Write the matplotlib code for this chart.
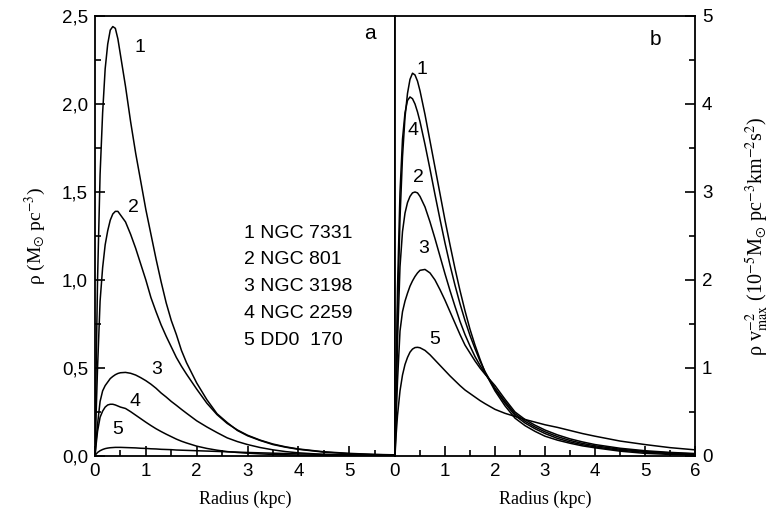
import matplotlib
matplotlib.use("Agg")
import matplotlib.pyplot as plt
from matplotlib.ticker import MultipleLocator, FuncFormatter

# radius grid (kpc)
R = [0, 0.02, 0.05, 0.1, 0.15, 0.2, 0.25, 0.3, 0.35, 0.4, 0.45, 0.5, 0.6, 0.7, 0.8, 0.9,
     1.0, 1.1, 1.2, 1.3, 1.4, 1.5, 1.6, 1.7, 1.8, 2.0, 2.2, 2.4, 2.6, 2.8, 3.0, 3.25,
     3.5, 3.75, 4.0, 4.5, 5.0, 5.5, 6.0]

# panel a: rho (Msun pc^-3)
rho_1 = [0, 0.45, 1.0, 1.6, 1.95, 2.2, 2.34, 2.42, 2.44, 2.43, 2.37, 2.28, 2.1, 1.9, 1.72, 1.56,
         1.4, 1.26, 1.12, 0.99, 0.87, 0.77, 0.69, 0.6, 0.53, 0.415, 0.32, 0.24, 0.19, 0.145, 0.115, 0.088,
         0.065, 0.05, 0.038, 0.022, 0.013, 0.008, 0.005]
rho_2 = [0, 0.22, 0.5, 0.88, 1.07, 1.2, 1.28, 1.34, 1.375, 1.39, 1.39, 1.37, 1.33, 1.26, 1.18, 1.09,
         1.0, 0.9, 0.82, 0.745, 0.68, 0.62, 0.56, 0.51, 0.465, 0.38, 0.3, 0.235, 0.185, 0.148, 0.118, 0.09,
         0.068, 0.052, 0.04, 0.024, 0.015, 0.009, 0.006]
rho_3 = [0, 0.08, 0.18, 0.31, 0.37, 0.40, 0.42, 0.44, 0.452, 0.462, 0.469, 0.473, 0.475, 0.47, 0.46, 0.445,
         0.428, 0.408, 0.385, 0.358, 0.335, 0.31, 0.288, 0.265, 0.243, 0.2, 0.165, 0.133, 0.103, 0.082, 0.065, 0.048,
         0.035, 0.025, 0.018, 0.009, 0.005, 0.003, 0.002]
rho_4 = [0, 0.06, 0.14, 0.22, 0.255, 0.278, 0.29, 0.294, 0.294, 0.29, 0.284, 0.278, 0.27, 0.252, 0.232, 0.212,
         0.192, 0.173, 0.155, 0.139, 0.124, 0.11, 0.096, 0.084, 0.074, 0.056, 0.043, 0.033, 0.025, 0.02, 0.016, 0.012,
         0.009, 0.007, 0.005, 0.003, 0.002, 0.001, 0.001]
rho_5 = [0, 0.01, 0.02, 0.03, 0.037, 0.042, 0.045, 0.047, 0.048, 0.049, 0.049, 0.049, 0.048, 0.047, 0.046, 0.044,
         0.043, 0.041, 0.04, 0.038, 0.037, 0.036, 0.034, 0.033, 0.032, 0.03, 0.028, 0.026, 0.024, 0.022, 0.02, 0.018,
         0.016, 0.014, 0.012, 0.009, 0.007, 0.005, 0.004]

# panel b: rho / vmax^2 (1e-5 Msun pc^-3 km^-2 s^2)
nrm_1 = [0, 0.6, 1.6, 2.7, 3.4, 3.85, 4.12, 4.28, 4.35, 4.33, 4.26, 4.15, 3.88, 3.58, 3.28, 2.98,
         2.68, 2.4, 2.13, 1.88, 1.65, 1.44, 1.26, 1.1, 0.95, 0.74, 0.57, 0.43, 0.345, 0.28, 0.225, 0.18,
         0.145, 0.115, 0.093, 0.055, 0.03, 0.018, 0.011]
nrm_2 = [0, 0.55, 1.3, 2.15, 2.55, 2.76, 2.88, 2.95, 2.99, 3.0, 2.99, 2.95, 2.83, 2.66, 2.47, 2.27,
         2.07, 1.88, 1.7, 1.53, 1.38, 1.25, 1.13, 1.03, 0.94, 0.77, 0.62, 0.48, 0.395, 0.33, 0.275, 0.22,
         0.177, 0.143, 0.116, 0.077, 0.051, 0.034, 0.023]
nrm_3 = [0, 0.38, 0.85, 1.42, 1.64, 1.76, 1.85, 1.93, 1.99, 2.04, 2.08, 2.11, 2.12, 2.08, 2.0, 1.89,
         1.77, 1.64, 1.51, 1.38, 1.26, 1.17, 1.08, 1.0, 0.93, 0.8, 0.645, 0.5, 0.415, 0.35, 0.295, 0.24,
         0.195, 0.16, 0.13, 0.088, 0.06, 0.041, 0.028]
nrm_4 = [0, 0.75, 1.9, 3.0, 3.6, 3.9, 4.04, 4.08, 4.06, 4.0, 3.91, 3.8, 3.54, 3.26, 2.97, 2.69,
         2.42, 2.17, 1.94, 1.73, 1.54, 1.37, 1.22, 1.08, 0.96, 0.76, 0.6, 0.46, 0.375, 0.31, 0.255, 0.2,
         0.16, 0.128, 0.103, 0.066, 0.042, 0.027, 0.018]
nrm_5 = [0, 0.22, 0.46, 0.74, 0.92, 1.04, 1.12, 1.18, 1.215, 1.232, 1.235, 1.23, 1.2, 1.15, 1.09, 1.03,
         0.97, 0.91, 0.855, 0.8, 0.75, 0.71, 0.67, 0.63, 0.595, 0.53, 0.485, 0.45, 0.415, 0.385, 0.355, 0.325,
         0.29, 0.255, 0.225, 0.17, 0.13, 0.095, 0.07]

legend_lines = ["1 NGC 7331", "2 NGC 801", "3 NGC 3198", "4 NGC 2259", "5 DD0  170"]
labels_a = ["1", "2", "3", "4", "5"]
labels_b = ["1", "4", "2", "3", "5"]

plt.rcParams['mathtext.fontset'] = 'stix'
plt.rcParams['font.family'] = ['Liberation Sans', 'DejaVu Sans']

fig = plt.figure(figsize=(7.82, 5.26), dpi=100)
axa = fig.add_axes([95/782, 70/526, 300/782, 440/526])
axb = fig.add_axes([395/782, 70/526, 300/782, 440/526])

for ys in (rho_1, rho_2, rho_3, rho_4, rho_5):
    axa.plot(R, ys, color='black', lw=1.1)
for ys in (nrm_1, nrm_2, nrm_3, nrm_4, nrm_5):
    axb.plot(R, ys, color='black', lw=1.1)

axa.set_xlim(0, 5.9)
axa.set_ylim(0, 2.5)
axb.set_xlim(0, 6)
axb.set_ylim(0, 5)

comma = FuncFormatter(lambda v, p: ('%.1f' % v).replace('.', ','))
intfmt = FuncFormatter(lambda v, p: '%d' % round(v))

axa.xaxis.set_major_locator(MultipleLocator(1))
axa.xaxis.set_minor_locator(MultipleLocator(0.5))
axa.yaxis.set_major_locator(MultipleLocator(0.5))
axa.yaxis.set_minor_locator(MultipleLocator(0.25))
axa.yaxis.set_major_formatter(comma)
axa.xaxis.set_major_formatter(intfmt)

axb.xaxis.set_major_locator(MultipleLocator(1))
axb.xaxis.set_minor_locator(MultipleLocator(0.5))
axb.yaxis.set_major_locator(MultipleLocator(1))
axb.yaxis.set_minor_locator(MultipleLocator(0.5))
axb.xaxis.set_major_formatter(intfmt)
axb.yaxis.set_major_formatter(intfmt)
axb.yaxis.tick_right()
axb.yaxis.set_label_position('right')

for ax in (axa, axb):
    for s in ax.spines.values():
        s.set_linewidth(1.3)
    ax.tick_params(which='both', direction='in', top=False, labelsize=13.5, width=1.2, pad=5)
    ax.tick_params(which='major', length=7)
    ax.tick_params(which='minor', length=4)
axa.tick_params(which='both', right=False)
axb.tick_params(which='both', left=False, right=True)

serif = ['Liberation Serif', 'DejaVu Serif']
axa.set_xlabel('Radius (kpc)', family=serif, fontsize=13, labelpad=8)
axb.set_xlabel('Radius (kpc)', family=serif, fontsize=13, labelpad=8)
axa.set_ylabel(r'ρ (M$_{\odot}$ pc$^{-3}$)', family=serif, fontsize=14, labelpad=10)
axb.set_ylabel(r'ρ v$_{\mathrm{max}}^{-2}$ (10$^{-5}$M$_{\odot}$ pc$^{-3}$km$^{-2}$s$^{2}$)',
               family=serif, fontsize=14.5, labelpad=22)

# curve labels
pos_a = [(0.89, 2.32), (0.75, 1.41), (1.22, 0.49), (0.79, 0.31), (0.45, 0.15)]
for t, (x, y) in zip(labels_a, pos_a):
    axa.text(x, y, t, fontsize=14, ha='center', va='center')
pos_b = [(0.53, 4.39), (0.37, 3.70), (0.47, 3.16), (0.57, 2.36), (0.80, 1.32)]
for t, (x, y) in zip(labels_b, pos_b):
    axb.text(x, y, t, fontsize=14, ha='center', va='center')

axa.text(5.41, 2.40, 'a', fontsize=15, ha='center', va='center')
axb.text(5.2, 4.73, 'b', fontsize=15, ha='center', va='center')

for i, t in enumerate(legend_lines):
    axa.text(2.93, 1.267 - i * 0.153, t, fontsize=14, ha='left', va='center')

fig.savefig('out.png', dpi=100)
